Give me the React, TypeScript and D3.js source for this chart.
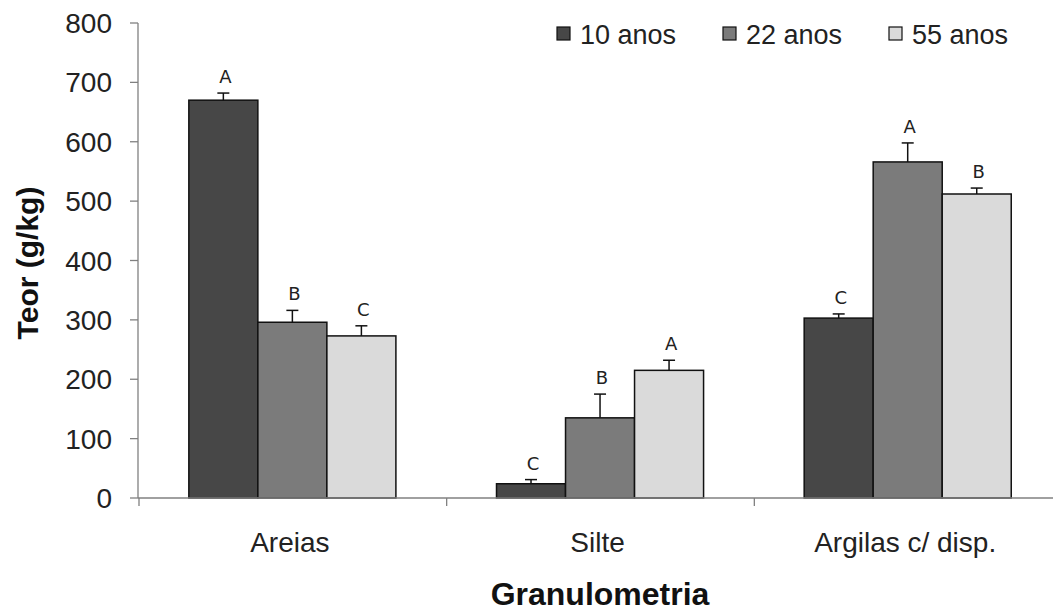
import React from "react";
import * as d3 from "d3";

const categories = ["Areias", "Silte", "Argilas c/ disp."];
const series = ["10 anos", "22 anos", "55 anos"];
const values10 = [670, 24, 303];
const values22 = [296, 135, 566];
const values55 = [273, 215, 512];
const errors10 = [12, 7, 7];
const errors22 = [20, 40, 32];
const errors55 = [17, 17, 10];
const letters10 = ["A", "C", "C"];
const letters22 = ["B", "B", "A"];
const letters55 = ["C", "A", "B"];
const yTicks = [0, 100, 200, 300, 400, 500, 600, 700, 800];

const colors = ["#474747", "#7b7b7b", "#dadada"];
const W = 1053;
const H = 611;
const FONT = "'Liberation Sans', Arial, sans-serif";

export default function App() {
  const x = d3.scaleBand<string>().domain(categories).range([139, 1062]).padding(0);
  const bw = x.bandwidth();
  const xi = d3.scaleBand<string>().domain(series).range([bw * 0.162, bw * 0.835]).padding(0);
  const y = d3.scaleLinear().domain([0, 800]).range([498, 23]);
  const vals = [values10, values22, values55];
  const errs = [errors10, errors22, errors55];
  const lets = [letters10, letters22, letters55];
  const legendX = [557, 723, 889];

  return (
    <svg width={W} height={H} style={{ position: "absolute", left: 0, top: 0, background: "#fff" }}>
      <rect width={W} height={H} fill="#fff" />
      {/* y axis */}
      <line x1={138} x2={138} y1={y(800)} y2={y(0)} stroke="#808080" strokeWidth={1.3} />
      {yTicks.map((t) => (
        <g key={t}>
          <line x1={130} x2={138} y1={y(t)} y2={y(t)} stroke="#808080" strokeWidth={1.3} />
          <text x={112} y={y(t)} dy="0.36em" textAnchor="end" fontFamily={FONT} fontSize={28} fill="#222">
            {t}
          </text>
        </g>
      ))}
      {/* bars */}
      {categories.map((c, ci) => (
        <g key={c} transform={`translate(${x(c)},0)`}>
          {series.map((s, si) => {
            const v = vals[si][ci];
            const e = errs[si][ci];
            const bx = xi(s)!;
            const cx = bx + xi.bandwidth() / 2;
            return (
              <g key={s}>
                <rect x={bx} y={y(v)} width={xi.bandwidth()} height={y(0) - y(v)} fill={colors[si]} stroke="#111" strokeWidth={1.5} />
                <line x1={cx} x2={cx} y1={y(v)} y2={y(v + e)} stroke="#111" strokeWidth={1.5} />
                <line x1={cx - 6} x2={cx + 6} y1={y(v + e)} y2={y(v + e)} stroke="#111" strokeWidth={1.5} />
                <text x={cx + 2} y={y(v + e) - 10} textAnchor="middle" fontFamily="'DejaVu Sans', Verdana, sans-serif" fontSize={18} fill="#222">
                  {lets[si][ci]}
                </text>
              </g>
            );
          })}
        </g>
      ))}
      {/* x axis */}
      <line x1={138} x2={W} y1={y(0)} y2={y(0)} stroke="#808080" strokeWidth={1.3} />
      {categories.map((c) => (
        <g key={c}>
          <line x1={x(c)!} x2={x(c)!} y1={y(0)} y2={y(0) + 8} stroke="#808080" strokeWidth={1.3} />
          <text x={x(c)! + bw / 2 - 3} y={552} textAnchor="middle" fontFamily={FONT} fontSize={28} fill="#222">
            {c}
          </text>
        </g>
      ))}
      {/* axis titles */}
      <text x={600} y={605} textAnchor="middle" fontFamily={FONT} fontSize={32} fontWeight="bold" fill="#111">
        Granulometria
      </text>
      <text transform={`translate(38,263) rotate(-90)`} textAnchor="middle" fontFamily={FONT} fontSize={30} fontWeight="bold" fill="#111">
        Teor (g/kg)
      </text>
      {/* legend */}
      {series.map((s, si) => (
        <g key={s}>
          <rect x={legendX[si]} y={27} width={13} height={13} fill={colors[si]} stroke="#111" strokeWidth={1.2} />
          <text x={legendX[si] + 23} y={44} fontFamily={FONT} fontSize={27} fill="#222">
            {s}
          </text>
        </g>
      ))}
    </svg>
  );
}
